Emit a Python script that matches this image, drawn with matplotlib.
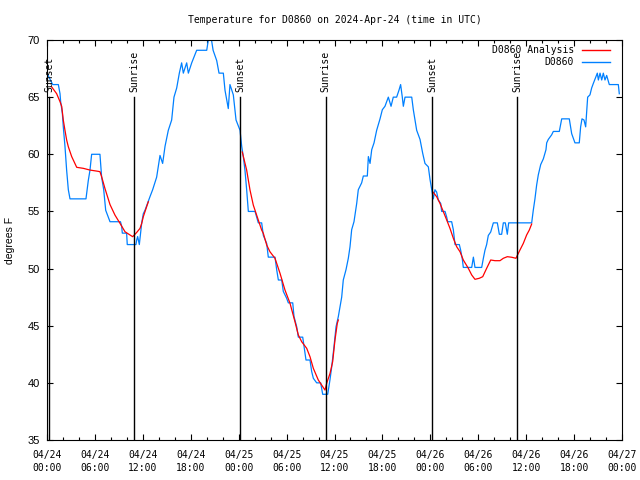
import matplotlib
matplotlib.use("Agg")
import matplotlib.pyplot as plt
import matplotlib.dates as mdates
from matplotlib.lines import Line2D
import pandas as pd

# hours after 2024-04-24 00:00 UTC
obs_hours = [0.0, 0.71, 1.42, 1.63, 1.71, 1.92, 2.04, 2.25, 2.46, 2.67, 2.88, 4.88, 5.17, 5.38, 5.59,
             6.63, 6.84, 7.1, 7.35, 7.89, 9.2, 9.35, 9.43, 9.97, 10.05, 11.14, 11.23, 11.35, 11.56,
             11.86, 12.06, 12.27, 12.9, 13.23, 13.73, 14.15, 14.48, 14.78, 15.19, 15.61, 15.9, 16.24,
             16.57, 16.86, 17.07, 17.49, 17.7, 18.12, 18.74, 20.0, 20.2, 20.6, 20.8, 21.25, 21.54,
             22.08, 22.29, 22.7, 22.91, 23.33, 23.67, 24.17, 24.38, 24.58, 24.79, 25.0, 25.21, 26.05,
             26.46, 26.88, 27.09, 27.51, 27.71, 28.55, 28.76, 28.97, 29.39, 29.59, 30.01, 30.22, 30.77,
             30.93, 31.27, 31.47, 32.02, 32.18, 32.43, 32.93, 33.14, 33.35, 33.77, 34.27, 34.52, 35.15,
             35.44, 35.65, 35.94, 36.19, 36.48, 36.9, 37.1, 37.44, 37.73, 37.94, 38.15, 38.44, 38.78,
             38.98, 39.4, 39.61, 40.11, 40.24, 40.45, 40.66, 40.95, 41.28, 41.7, 41.99, 42.32, 42.74,
             43.08, 43.36, 43.78, 44.07, 44.28, 44.49, 44.62, 44.83, 45.67, 45.87, 46.29, 46.71, 47.04,
             47.33, 47.75, 47.96, 48.17, 48.37, 48.58, 48.79, 49.0, 49.3, 49.42, 49.84, 50.05, 50.17,
             50.67, 50.88, 51.09, 51.63, 51.8, 52.01, 52.13, 53.18, 53.39, 53.59, 54.43, 54.64, 54.84,
             55.05, 55.26, 55.56, 55.89, 56.39, 56.64, 56.93, 57.14, 57.39, 57.64, 57.81, 60.69, 60.89,
             61.1, 61.31, 61.52, 61.82, 62.15, 62.48, 62.57, 62.77, 63.19, 63.4, 64.15, 64.45, 65.4,
             65.7, 66.11, 66.65, 66.82, 66.99, 67.24, 67.45, 67.58, 67.7, 67.99, 68.2, 68.41, 68.75,
             68.91, 69.04, 69.25, 69.46, 69.66, 69.87, 70.08, 70.41, 71.54, 71.66]
obs_temp = [67.1, 66.1, 66.1, 65.3, 64.6, 63.6, 62.4, 60.7, 58.6, 56.9, 56.1, 56.1, 57.7, 58.6, 60.0,
            60.0, 58.0, 56.9, 55.1, 54.1, 54.1, 53.7, 53.1, 53.1, 52.1, 52.1, 52.5, 52.8, 52.1,
            54.0, 54.8, 55.1, 56.3, 56.9, 58.0, 59.9, 59.2, 60.7, 62.1, 63.0, 65.0, 65.8,
            67.1, 68.0, 67.1, 68.0, 67.1, 68.0, 69.1, 69.1, 70.0, 70.0, 69.1, 68.2, 67.1,
            67.1, 65.6, 64.0, 66.1, 65.2, 63.0, 62.1, 60.7, 59.8, 58.6, 56.9, 55.0, 55.0,
            54.0, 54.0, 52.9, 52.2, 51.0, 51.0, 49.9, 49.0, 49.0, 48.0, 47.4, 47.0, 47.0,
            45.8, 44.9, 44.0, 44.0, 43.2, 42.0, 42.0, 41.0, 40.4, 40.0, 40.0, 39.0, 39.0,
            40.3, 41.4, 43.2, 44.9, 45.8, 47.5, 49.0, 49.9, 50.9, 51.9, 53.4, 54.1, 55.7,
            56.9, 57.5, 58.1, 58.1, 59.8, 59.2, 60.4, 61.0, 62.1, 63.1, 63.9, 64.2, 65.0,
            64.2, 65.0, 65.0, 65.6, 66.1, 65.0, 64.2, 65.0, 65.0, 63.9, 62.1, 61.3, 60.1,
            59.2, 58.9, 57.8, 56.9, 56.1, 56.9, 56.7, 56.0, 55.7, 55.0, 55.0, 54.5, 54.1,
            54.1, 53.4, 52.1, 52.1, 51.6, 50.8, 50.1, 50.1, 51.0, 50.1, 50.1, 50.9, 51.6,
            52.1, 52.9, 53.2, 54.0, 54.0, 53.0, 53.0, 54.0, 54.0, 53.0, 54.0, 54.0, 55.1,
            56.1, 57.3, 58.2, 59.1, 59.6, 60.4, 61.0, 61.3, 61.7, 62.0, 62.0, 63.1, 63.1,
            61.8, 61.0, 61.0, 62.4, 63.1, 63.0, 62.4, 63.7, 65.0, 65.2, 65.8, 66.2, 66.8,
            67.1, 66.5, 67.1, 66.5, 67.1, 66.5, 66.9, 66.1, 66.1, 65.3]

# analysis series, three night-time pieces
ana1_hours = [0.58, 1.21, 1.63, 1.84, 2.04, 2.25, 2.46, 2.67, 3.09, 3.72, 4.55, 5.38, 6.22, 6.63, 6.84,
              7.26, 7.89, 8.51, 9.14, 9.77, 10.39, 10.73, 11.23, 11.65, 11.86, 12.06, 12.48, 12.69]
ana1_temp = [65.9, 65.3, 64.6, 64.2, 63.0, 62.1, 61.25, 60.66, 59.8, 58.86, 58.77, 58.62, 58.53, 58.48, 58.04,
             57.0, 55.6, 54.68, 53.96, 53.22, 52.94, 52.79, 53.16, 53.52, 53.96, 54.54, 55.42, 55.85]
ana2_hours = [24.45, 25.0, 25.42, 25.83, 26.25, 26.88, 27.09, 27.51, 27.92, 28.55, 29.18, 29.8, 30.43,
              31.05, 31.47, 31.89, 32.52, 32.93, 33.35, 33.97, 34.81, 35.02, 35.44, 35.77, 36.06, 36.35, 36.48]
ana2_temp = [60.2, 58.62, 56.87, 55.56, 54.68, 53.37, 53.08, 52.06, 51.47, 50.9, 49.58, 48.12, 46.96,
             45.35, 44.19, 43.6, 43.02, 42.29, 41.27, 40.25, 39.37, 39.96, 40.83, 41.85, 43.75, 45.21, 45.5]
ana3_hours = [48.3, 48.79, 49.21, 49.63, 50.05, 50.46, 50.88, 51.3, 51.72, 52.13, 52.76, 53.18, 53.59,
              54.13, 54.56, 55.05, 55.56, 56.1, 56.72, 57.14, 57.64, 58.19, 58.72, 59.22, 59.64, 60.06,
              60.39, 60.69]
ana3_temp = [56.72, 56.29, 55.7, 54.98, 54.25, 53.52, 52.65, 51.91, 51.47, 50.75, 50.02, 49.44, 49.06,
             49.15, 49.29, 50.02, 50.75, 50.69, 50.69, 50.9, 51.04, 50.99, 50.9, 51.62, 52.2, 52.94,
             53.37, 53.9]

sun_hours = [0.25, 10.93, 24.2, 34.9, 48.25, 58.89]
sun_labels = ["Sunset", "Sunrise", "Sunset", "Sunrise", "Sunset", "Sunrise"]

start = pd.Timestamp("2024-04-24 00:00")


def to_time(hours):
    return start + pd.to_timedelta(hours, unit="h")


mono = "DejaVu Sans Mono"
fig = plt.figure(figsize=(6.4, 4.8), dpi=100)
ax = fig.add_axes([47 / 640, 40 / 480, 575 / 640, 400 / 480])

blue = "#0080ff"
red = "#ff0000"
ax.plot(to_time(obs_hours), obs_temp, color=blue, lw=0.9)
for h, t in [(ana1_hours, ana1_temp), (ana2_hours, ana2_temp), (ana3_hours, ana3_temp)]:
    ax.plot(to_time(h), t, color=red, lw=0.9)

for h, lab in zip(sun_hours, sun_labels):
    tt = to_time(h)
    ax.plot([tt, tt], [35, 65], color="black", lw=1.0)
    ax.text(tt, 65.45, lab, rotation=90, ha="center", va="bottom", fontsize=7, family=mono)

ax.set_xlim(to_time(0), to_time(72))
ax.set_ylim(35, 70)
ax.set_yticks(range(35, 71, 5))

ax.xaxis.set_major_locator(mdates.HourLocator(byhour=[0, 6, 12, 18]))
ax.xaxis.set_minor_locator(mdates.HourLocator(interval=2))
ax.xaxis.set_major_formatter(mdates.DateFormatter("%m/%d\n%H:%M"))
ax.tick_params(axis="both", which="both", direction="in", top=True, right=True, width=0.8)
ax.tick_params(which="major", length=4.5)
ax.tick_params(which="minor", length=2.5)
ax.tick_params(axis="x", pad=7)
ax.tick_params(axis="y", pad=5)
for lab in ax.get_xticklabels():
    lab.set_family(mono)
    lab.set_fontsize(7)
    lab.set_linespacing(1.45)
for lab in ax.get_yticklabels():
    lab.set_family("Liberation Sans")
    lab.set_fontsize(8)
for s in ax.spines.values():
    s.set_linewidth(0.8)

ax.set_ylabel("degrees F", family="Liberation Sans", fontsize=7.5, labelpad=9)
ax.set_title("Temperature for D0860 on 2024-Apr-24 (time in UTC)", family=mono, fontsize=7, pad=12)

# legend drawn by hand so the labels are right aligned like the source
for yy, lab, col in [(0.975, "D0860 Analysis", red), (0.944, "D0860", blue)]:
    ax.text(0.9165, yy, lab, transform=ax.transAxes, ha="right", va="center", fontsize=7, family=mono)
    ax.add_line(Line2D([0.930, 0.979], [yy, yy], transform=ax.transAxes, color=col, lw=1.0))

fig.savefig("out.png", dpi=100)
